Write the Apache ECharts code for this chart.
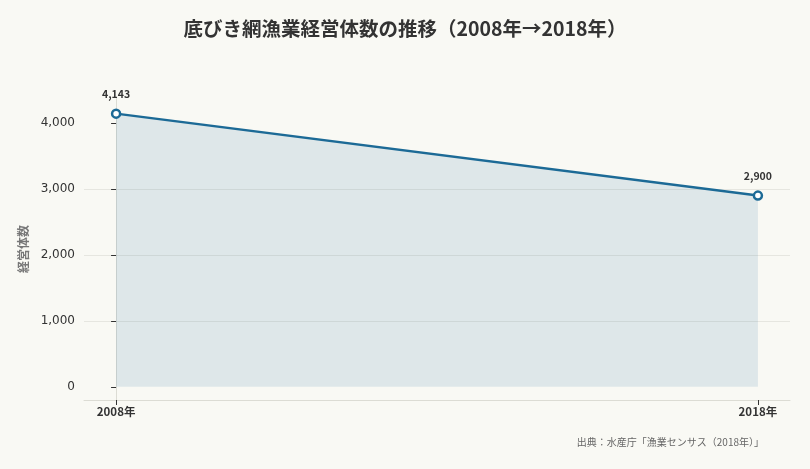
<!DOCTYPE html>
<html lang="ja">
<head>
<meta charset="utf-8">
<title>底びき網漁業経営体数の推移</title>
<script src="https://cdn.jsdelivr.net/npm/echarts@6.0.0/dist/echarts.min.js"></script>
<style>
  html, body { margin: 0; padding: 0; background: #f9f9f4; }
  #chart { width: 810px; height: 469px; }
</style>
</head>
<body>
<div id="chart"></div>
<script>
const years = ["2008年", "2018年"];
const counts = [4143, 2900];
const yTicks = [0, 1000, 2000, 3000, 4000];

const cjk = "'Noto Sans CJK JP', 'Noto Sans', sans-serif";
const lineColor = "#1c6a96";

const chart = echarts.init(document.getElementById("chart"), null, { renderer: "canvas" });

chart.setOption({
  backgroundColor: "#f9f9f4",
  animation: false,
  title: {
    text: "底びき網漁業経営体数の推移（2008年→2018年）",
    left: "center",
    top: 14,
    textStyle: { fontFamily: cjk, fontSize: 19.5, fontWeight: "bold", color: "#333" },
  },
  graphic: [
    {
      type: "text",
      right: 46,
      top: 437,
      style: {
        text: "出典：水産庁「漁業センサス（2018年）」",
        font: "10px " + cjk,
        fill: "#666",
      },
    },
  ],
  grid: { left: 84, right: 20, top: 98, bottom: 69 },
  xAxis: {
    type: "value",
    min: -0.05,
    max: years.length - 1 + 0.05,
    axisLine: { show: true, onZero: false, lineStyle: { color: "#dcdcd4", width: 1 } },
    axisTick: { show: true, length: 5, customValues: years.map((_, i) => i), lineStyle: { color: "#333" } },
    splitLine: { show: false },
    axisLabel: {
      customValues: years.map((_, i) => i),
      formatter: (v) => years[Math.round(v)] || "",
      fontFamily: cjk,
      fontSize: 11.5,
      fontWeight: "bold",
      color: "#333",
      margin: 6,
    },
  },
  yAxis: {
    type: "value",
    min: -200,
    max: 4380,
    name: "経営体数",
    nameLocation: "middle",
    nameGap: 54,
    nameTextStyle: { fontFamily: cjk, fontSize: 12, fontWeight: "bold", color: "#777" },
    axisLine: { show: true, lineStyle: { color: "#dcdcd4", width: 1 } },
    axisTick: { show: true, length: 5, customValues: yTicks, lineStyle: { color: "#333" } },
    axisLabel: {
      customValues: yTicks,
      formatter: (v) => v.toLocaleString("en-US"),
      fontFamily: "'DejaVu Sans', sans-serif",
      fontSize: 12,
      color: "#333",
      margin: 9,
    },
    splitLine: {
      show: true,
      showMinLine: false,
      showMaxLine: false,
      lineStyle: { color: "#e6e6e0", width: 1 },
    },
  },
  series: [
    {
      type: "line",
      data: counts.map((v, i) => [i, v]),
      symbol: "circle",
      symbolSize: 8,
      showAllSymbol: true,
      clip: false,
      lineStyle: { color: lineColor, width: 2.5 },
      itemStyle: { color: "#fff", borderColor: lineColor, borderWidth: 2.5 },
      areaStyle: { color: "rgba(28,106,150,0.17)" },
      label: {
        show: true,
        position: "top",
        distance: 9,
        formatter: (p) => p.value[1].toLocaleString("en-US"),
        fontFamily: cjk,
        fontSize: 10.5,
        fontWeight: "bold",
        color: "#333",
      },
    },
  ],
});
</script>
</body>
</html>
